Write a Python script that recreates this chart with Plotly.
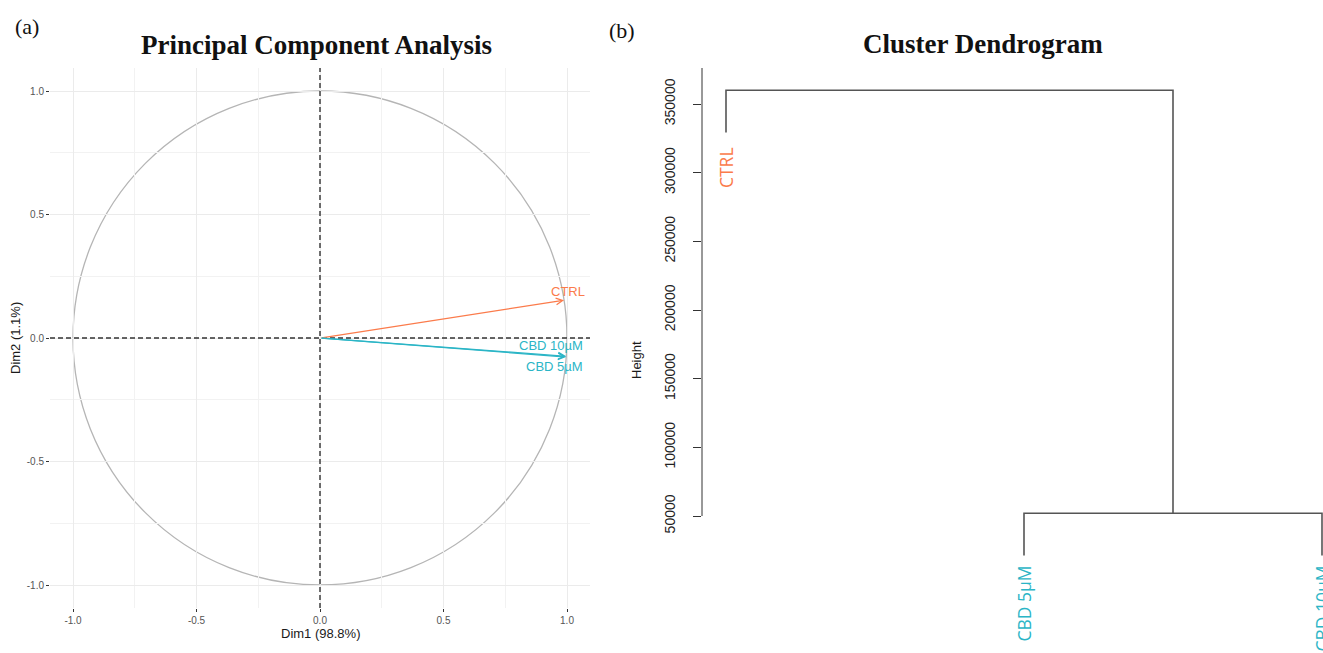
import plotly.graph_objects as go

# ---------------- data ----------------
# PCA variable coordinates (correlation circle)
pca_vars = ["CTRL", "CBD 10µM", "CBD 5µM"]
pca_dim1 = [0.988, 0.997, 0.996]
pca_dim2 = [0.153, -0.074, -0.077]
pca_colors = ["#FB7B4B", "#2BB5C6", "#2BB5C6"]
dim1_label = "Dim1 (98.8%)"
dim2_label = "Dim2 (1.1%)"
pca_ticks = [-1.0, -0.5, 0.0, 0.5, 1.0]
pca_ticktext = ["-1.0", "-0.5", "0.0", "0.5", "1.0"]
pca_minor = [-0.75, -0.25, 0.25, 0.75]

# Hierarchical clustering
leaf_labels = ["CTRL", "CBD 5µM", "CBD 10µM"]
leaf_colors = ["#FB7B4B", "#2BB5C6", "#2BB5C6"]
merge_heights = [52000, 360000]   # (CBD 5µM, CBD 10µM), then (CTRL, cluster)
height_ticks = [50000, 100000, 150000, 200000, 250000, 300000, 350000]

# ---------------- layout helpers ----------------
W, H = 1323, 653
def px(xp):
    return xp / W
def py(yp):
    return 1 - yp / H

fig = go.Figure()

# ---------------- PCA panel ----------------
for name, x, y, c in zip(pca_vars, pca_dim1, pca_dim2, pca_colors):
    fig.add_annotation(x=x, y=y, ax=0, ay=0, xref="x", yref="y", axref="x", ayref="y",
                       showarrow=True, text="", arrowhead=5, arrowsize=1.0,
                       arrowwidth=1.3, arrowcolor=c, standoff=0)

label_pos = {"CTRL": (1.081, 0.190), "CBD 10µM": (1.073, -0.032), "CBD 5µM": (1.073, -0.117)}
for name, c in zip(pca_vars, pca_colors):
    lx, ly = label_pos[name]
    fig.add_annotation(x=lx, y=ly, xref="x", yref="y", text=name, showarrow=False,
                       xanchor="right", yanchor="middle",
                       font=dict(family="Liberation Sans", size=13, color=c))

# invisible trace to activate axes
fig.add_trace(go.Scatter(x=pca_dim1, y=pca_dim2, mode="markers", marker=dict(opacity=0),
                         hoverinfo="skip", showlegend=False, xaxis="x", yaxis="y"))

# correlation circle
fig.add_shape(type="circle", xref="x", yref="y", x0=-1, y0=-1, x1=1, y1=1,
              line=dict(color="#B5B5B5", width=1.3), layer="below")
# dashed reference lines
fig.add_shape(type="line", xref="x", yref="y domain", x0=0, x1=0, y0=0, y1=1,
              line=dict(color="#333333", width=1.4, dash="5px,3px"))
fig.add_shape(type="line", xref="x domain", yref="y", x0=0, x1=1, y0=0, y1=0,
              line=dict(color="#333333", width=1.4, dash="5px,3px"))

# ---------------- Dendrogram panel ----------------
leaf_x = [1, 2, 3]
hang = 0.1 * (max(merge_heights) - min(merge_heights))
h1, h2 = merge_heights
center = (leaf_x[1] + leaf_x[2]) / 2
seg_x = [leaf_x[1], leaf_x[1], leaf_x[2], leaf_x[2], None,
         center, center, leaf_x[0], leaf_x[0]]
seg_y = [h1 - hang, h1, h1, h1 - hang, None,
         h1, h2, h2, h2 - hang]
fig.add_trace(go.Scatter(x=seg_x, y=seg_y, mode="lines",
                         line=dict(color="#555555", width=1.6),
                         hoverinfo="skip", showlegend=False, xaxis="x2", yaxis="y2"))

leaf_heights = [h2 - hang, h1 - hang, h1 - hang]
leaf_shift = [-13, -8, -8]
for lx, lh, lab, c, sh in zip(leaf_x, leaf_heights, leaf_labels, leaf_colors, leaf_shift):
    fig.add_annotation(x=lx, y=lh, xref="x2", yref="y2", text=lab, showarrow=False,
                       textangle=-90, xanchor="center", yanchor="top", yshift=sh,
                       font=dict(family="Open Sans", size=17.5, color=c))

# y axis line of dendrogram
y2_top = 50000 + (516 - 68) * 300000 / 412
y2_bot = 50000 - (600 - 516) * 300000 / 412
fig.add_shape(type="line", xref="paper", yref="y2", x0=px(702), x1=px(702),
              y0=50000, y1=y2_top, line=dict(color="#333333", width=1))

# ---------------- titles & labels ----------------
def label(x, y, text, size, family="Liberation Sans", angle=0, color="#1A1A1A"):
    fig.add_annotation(x=px(x), y=py(y), xref="paper", yref="paper", text=text,
                       showarrow=False, xanchor="center", yanchor="middle",
                       textangle=angle, font=dict(family=family, size=size, color=color))

label(316, 45, "<b>Principal Component Analysis</b>", 27, "Liberation Serif", color="#111111")
label(983, 44, "<b>Cluster Dendrogram</b>", 27, "Liberation Serif", color="#111111")
label(27, 27, "(a)", 22, "Liberation Serif", color="#111111")
label(622, 30, "(b)", 22, "Liberation Serif", color="#111111")
label(320, 633, dim1_label, 13)
label(15, 338, dim2_label, 13, angle=-90)
label(636, 360, "Height", 13, angle=-90)

rng = (590 - 320) / 247
tickfont = dict(family="Liberation Sans", size=10, color="#555555")
fig.update_layout(
    width=W, height=H, margin=dict(l=0, r=0, t=0, b=0),
    paper_bgcolor="white", plot_bgcolor="white", showlegend=False,
    xaxis=dict(domain=[px(50), px(590)], range=[-rng, rng], anchor="y",
               tickmode="array", tickvals=pca_ticks, ticktext=pca_ticktext,
               showgrid=True, gridcolor="#EBEBEB", gridwidth=1,
               minor=dict(tickmode="array", tickvals=pca_minor, showgrid=True,
                          gridcolor="#F2F2F2", gridwidth=1),
               zeroline=False, showline=False, ticks="outside", ticklen=3,
               tickcolor="#333333", tickfont=tickfont),
    yaxis=dict(domain=[py(608), py(68)], range=[-rng, rng], anchor="x",
               tickmode="array", tickvals=pca_ticks, ticktext=pca_ticktext,
               showgrid=True, gridcolor="#EBEBEB", gridwidth=1,
               minor=dict(tickmode="array", tickvals=pca_minor, showgrid=True,
                          gridcolor="#F2F2F2", gridwidth=1),
               zeroline=False, showline=False, ticks="outside", ticklen=3,
               tickcolor="#333333", tickfont=tickfont),
    xaxis2=dict(domain=[px(702), 1.0], range=[1 - 24 / 298, 3 + 1 / 298], anchor="y2",
                visible=False),
    yaxis2=dict(domain=[py(600), py(68)], range=[y2_bot, y2_top], anchor="x2",
                tickmode="array", tickvals=height_ticks,
                ticktext=[str(v) for v in height_ticks], tickangle=-90,
                showgrid=False, zeroline=False, showline=False,
                ticks="outside", ticklen=8, tickcolor="#333333", ticklabelstandoff=12,
                tickfont=dict(family="Liberation Sans", size=14, color="#222222")),
)

fig.write_html("out.html", config={"displayModeBar": False},
               post_script="document.body.style.margin='0';document.body.style.overflow='hidden';")
